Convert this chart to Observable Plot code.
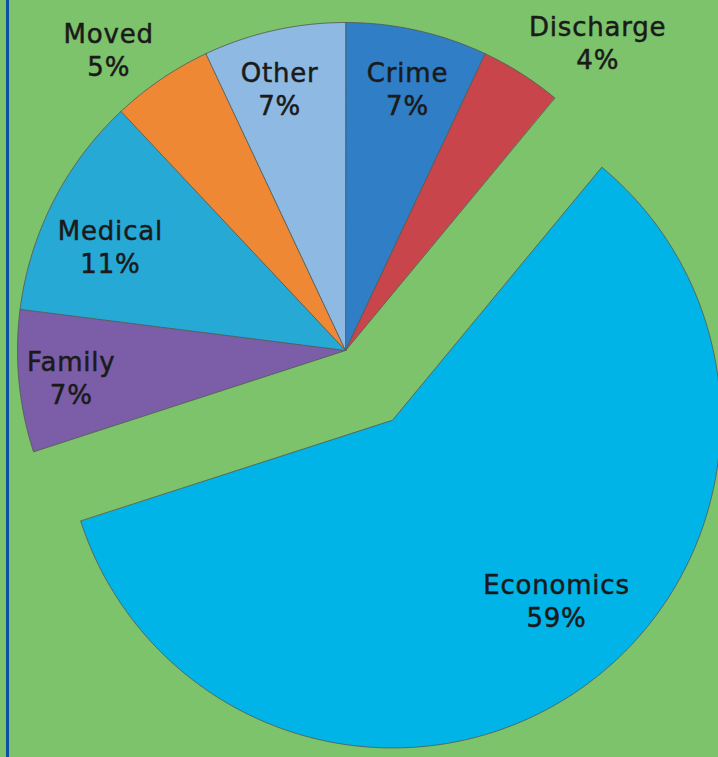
<!DOCTYPE html>
<html>
<head>
<meta charset="utf-8">
<script src="https://cdn.jsdelivr.net/npm/d3@7"></script>
<script src="https://cdn.jsdelivr.net/npm/@observablehq/plot@0.6"></script>
<style>
  html, body { margin: 0; padding: 0; background: #7cc36b; }
  #wrap { position: relative; width: 718px; height: 757px; overflow: hidden; }
  #edge { position: absolute; left: 6px; top: 0; width: 3px; height: 757px; background: #0b4ea2; }
</style>
</head>
<body>
<div id="wrap"><div id="edge"></div></div>
<script>
// ---- data ----
const categories = ["Crime", "Discharge", "Economics", "Family", "Medical", "Moved", "Other"];
const shares = [7, 4, 59, 7, 11, 5, 7];
const sliceColors = ["#2f7ec6", "#c8464b", "#00b4e8", "#7b5ea7", "#27a9d6", "#ef8834", "#8db9e2"];
const explodedCategory = "Economics";

// ---- layout (not data) ----
const explodeDistance = 0.256; // in radii
// label placement: radius (in radii) and angle nudge (degrees) relative to slice mid-angle
const labelPlacement = {
  Crime: {r: 0.822, da: 0.7},
  Discharge: {r: 1.214, da: 6.9},
  Economics: {r: 0.742, da: -8.1},
  Family: {r: 0.84, da: -0.2},
  Medical: {r: 0.784, da: -3.1},
  Moved: {r: 1.17, da: -3.9},
  Other: {r: 0.825, da: -1.5}
};

const table = categories.map((c, i) => ({category: c, value: shares[i]}));
const arcs = d3.pie().sort(null).value(d => d.value)(table);

const slicePoints = [];
const labels = [];
arcs.forEach(a => {
  const name = a.data.category;
  const mid = (a.startAngle + a.endAngle) / 2;
  const off = name === explodedCategory ? explodeDistance : 0;
  const cx = off * Math.sin(mid), cy = off * Math.cos(mid);
  slicePoints.push({category: name, x: cx, y: cy});
  const steps = Math.max(8, Math.ceil((a.endAngle - a.startAngle) / (Math.PI / 360)));
  for (let k = 0; k <= steps; k++) {
    const t = a.startAngle + (a.endAngle - a.startAngle) * k / steps;
    slicePoints.push({category: name, x: cx + Math.sin(t), y: cy + Math.cos(t)});
  }
  const p = labelPlacement[name];
  const la = mid + p.da * Math.PI / 180;
  labels.push({
    category: name,
    text: `${name}\n${a.data.value}%`,
    x: cx + p.r * Math.sin(la),
    y: cy + p.r * Math.cos(la)
  });
});

const chart = Plot.plot({
  width: 718,
  height: 757,
  margin: 0,
  x: {domain: [-1, 1], range: [17, 673], axis: null},
  y: {domain: [-1, 1], range: [678, 22], axis: null},
  color: {domain: categories, range: sliceColors},
  style: {background: "transparent", fontFamily: "'DejaVu Sans', Verdana, sans-serif", letterSpacing: "0.8px", overflow: "visible"},
  marks: [
    Plot.line(slicePoints, {
      x: "x", y: "y", z: "category", fill: "category",
      stroke: "#555b55", strokeWidth: 1, strokeOpacity: 0.85,
      curve: "linear-closed"
    }),
    Plot.text(labels, {
      x: "x", y: "y", text: "text",
      fontSize: 26, lineHeight: 1.27, fill: "#1a1a1a",
      stroke: "#1a1a1a", strokeWidth: 0.5,
      textAnchor: "middle"
    })
  ]
});
document.getElementById("wrap").appendChild(chart);
</script>
</body>
</html>
